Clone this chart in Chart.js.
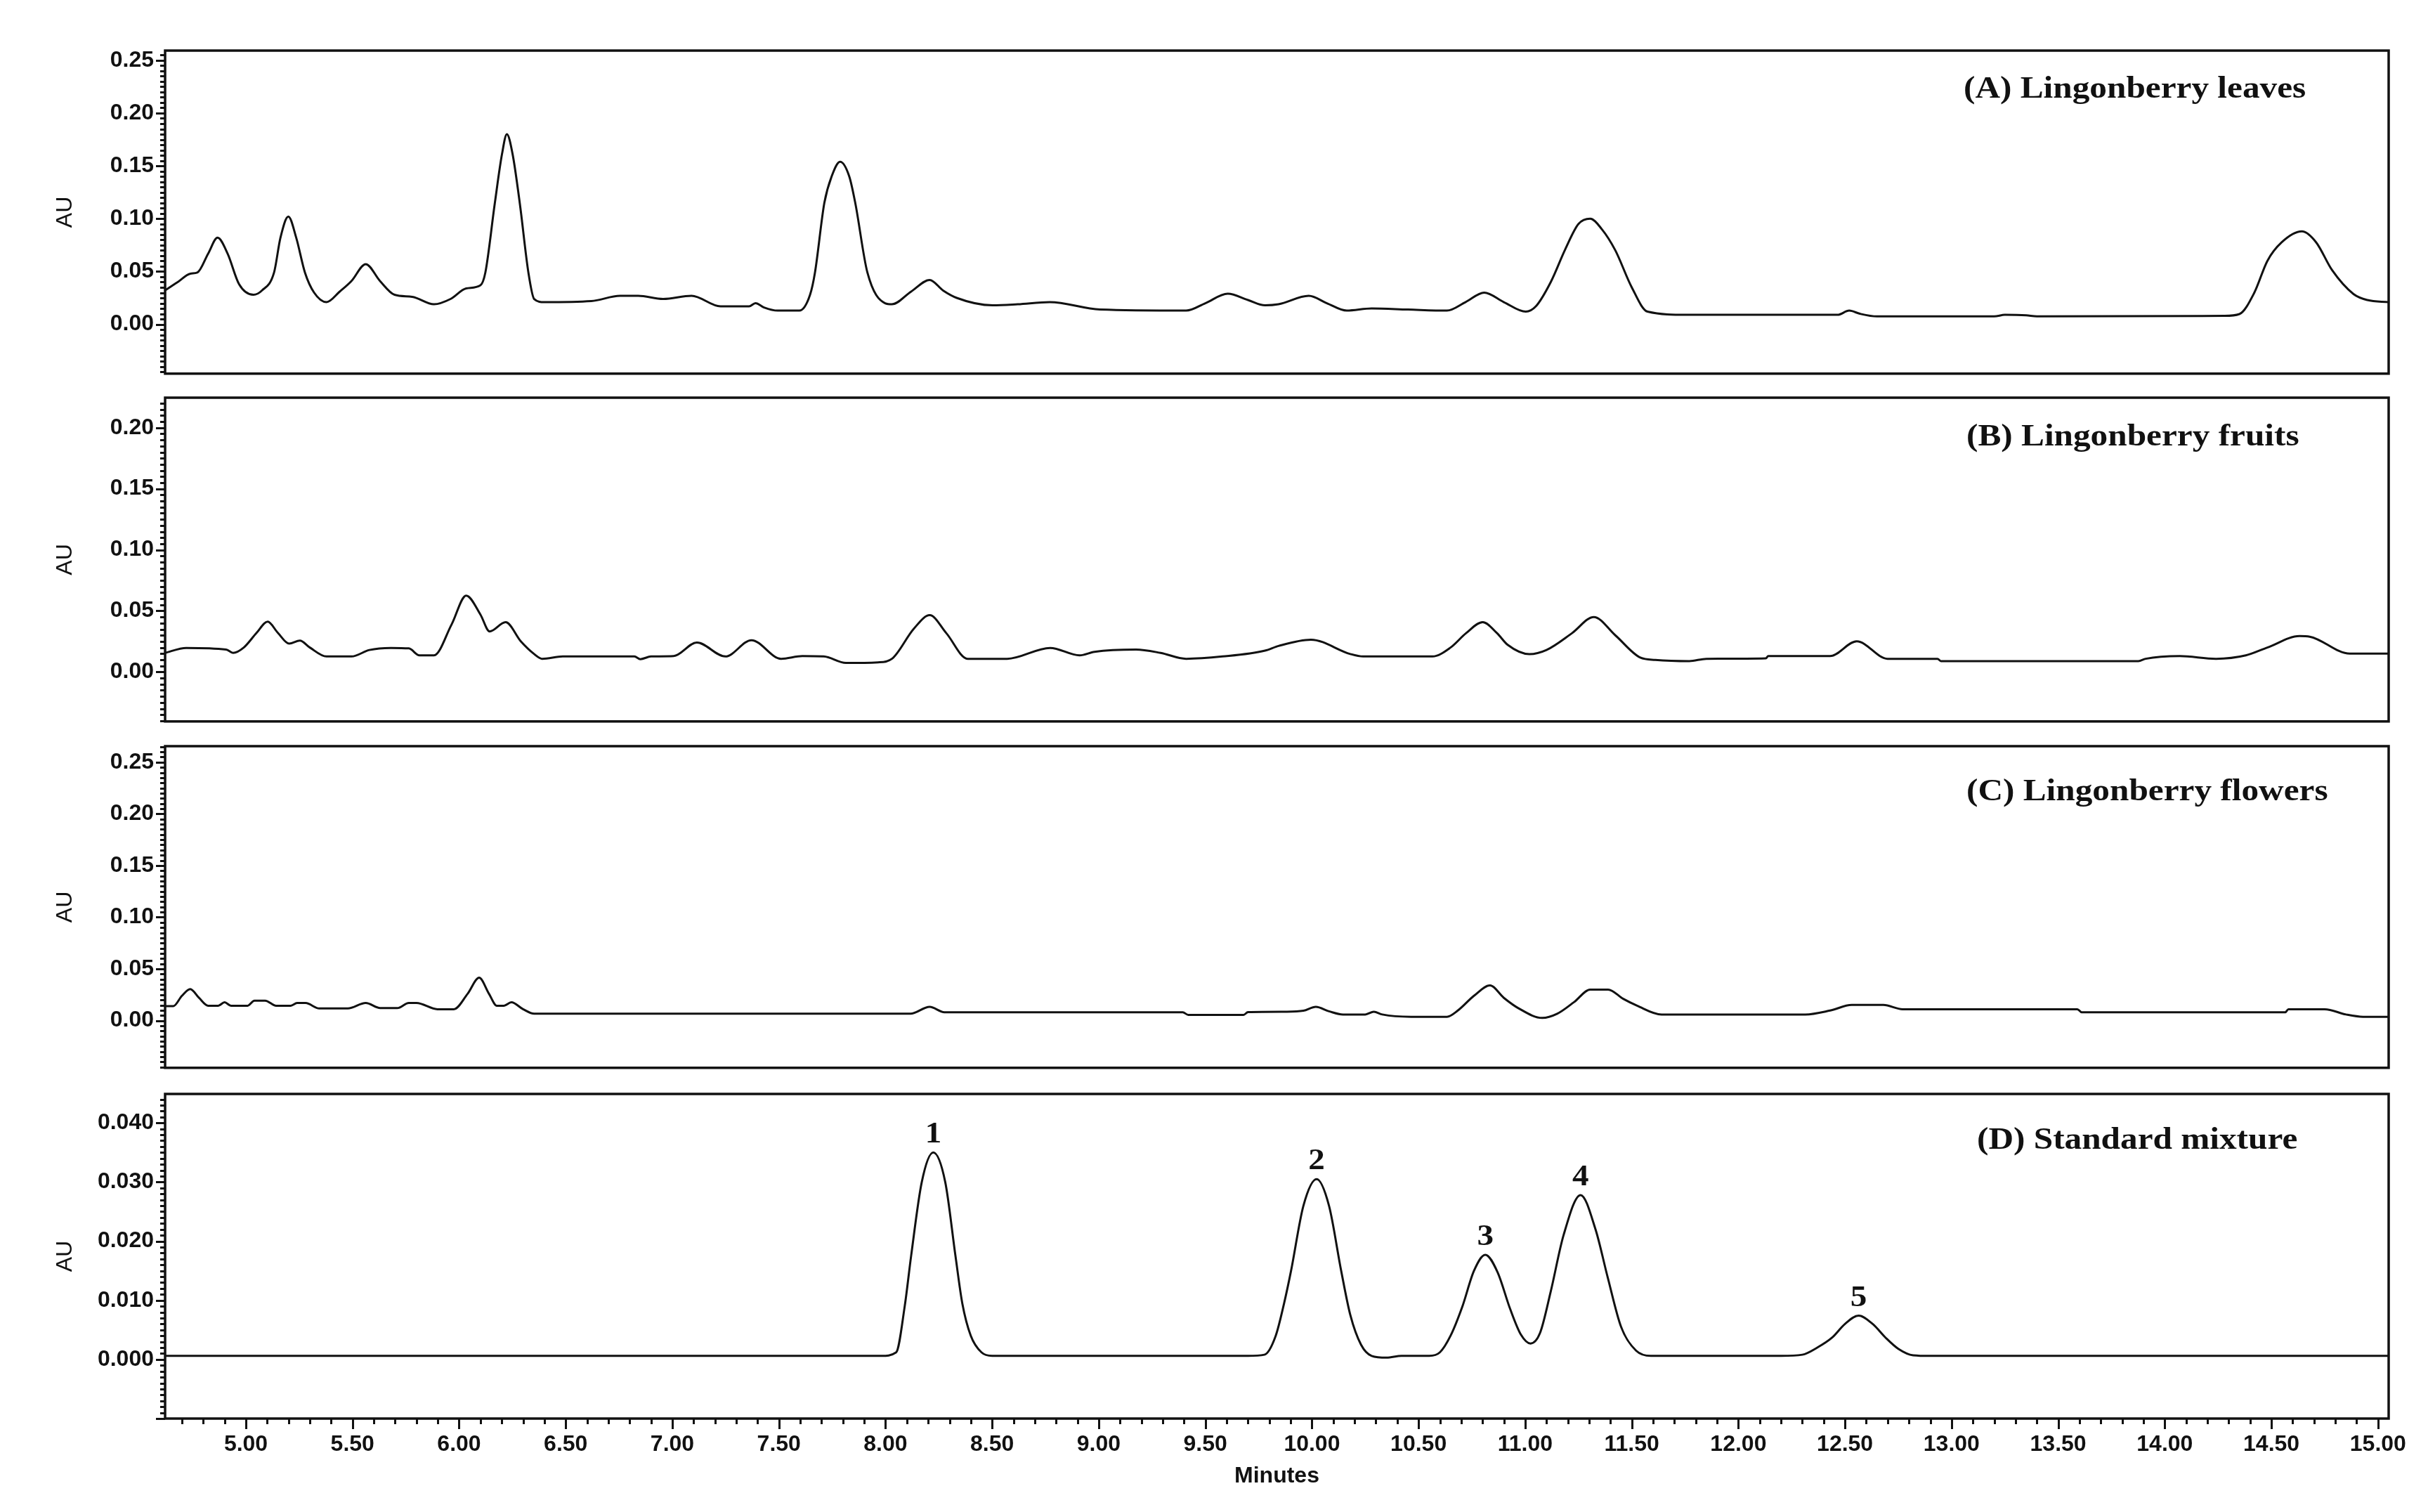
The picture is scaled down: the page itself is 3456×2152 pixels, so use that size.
<!DOCTYPE html>
<html>
<head>
<meta charset="utf-8">
<script src="https://cdn.jsdelivr.net/npm/chart.js@4.4.0/dist/chart.umd.min.js"></script>
<style>
  html, body { margin: 0; padding: 0; background: #fff; }
  #wrap { position: relative; width: 3456px; height: 2152px; background: #fff; }
  canvas { position: absolute; left: 0; }
</style>
</head>
<body>
<div id="wrap">
  <canvas id="panelA"></canvas>
  <canvas id="panelB"></canvas>
  <canvas id="panelC"></canvas>
  <canvas id="panelD"></canvas>
</div>
<script>
// (A) leaves
const timeA = [4.62, 4.68, 4.74, 4.772, 4.823, 4.867, 4.914, 4.968, 5.035, 5.075, 5.132, 5.162, 5.199, 5.236, 5.277, 5.32, 5.378,
  5.44, 5.495, 5.562, 5.629, 5.697, 5.78, 5.882, 5.96, 6.033, 6.10, 6.123, 6.167, 6.201, 6.224, 6.251, 6.285, 6.325, 6.352,
  6.40, 6.62, 6.755, 6.84, 6.957, 7.09, 7.226, 7.36, 7.39, 7.43, 7.494, 7.596, 7.646, 7.669, 7.713, 7.747, 7.787, 7.83,
  7.858, 7.915, 7.998, 8.03, 8.12, 8.207, 8.27, 8.334, 8.502, 8.62, 8.77, 9.006, 9.41, 9.50, 9.605, 9.70, 9.78, 9.843,
  9.985, 10.07, 10.163, 10.28, 10.45, 10.633, 10.72, 10.808, 10.90, 11.003, 11.05, 11.12, 11.188, 11.25, 11.305, 11.36,
  11.423, 11.50, 11.574, 11.759, 12.465, 12.52, 12.57, 12.65, 13.20, 13.25, 13.35, 13.40, 14.28, 14.35, 14.42, 14.481,
  14.548, 14.643, 14.71, 14.784, 14.885, 14.95, 15.05];
const auA = [0.032, 0.040, 0.048, 0.049, 0.067, 0.082, 0.067, 0.038, 0.028, 0.032, 0.049, 0.082, 0.102, 0.082, 0.049, 0.030, 0.021,
  0.031, 0.041, 0.057, 0.041, 0.028, 0.026, 0.019, 0.024, 0.034, 0.037, 0.049, 0.114, 0.161, 0.180, 0.161, 0.114, 0.049, 0.024,
  0.021, 0.022, 0.027, 0.027, 0.024, 0.027, 0.017, 0.017, 0.020, 0.016, 0.013, 0.013, 0.028, 0.049, 0.115, 0.140, 0.154, 0.140,
  0.115, 0.049, 0.020, 0.019, 0.031, 0.042, 0.032, 0.025, 0.018, 0.019, 0.021, 0.014, 0.013, 0.020, 0.029, 0.023, 0.018, 0.019,
  0.027, 0.020, 0.013, 0.015, 0.014, 0.013, 0.021, 0.030, 0.021, 0.012, 0.017, 0.040, 0.071, 0.095, 0.100, 0.090,
  0.070, 0.035, 0.012, 0.009, 0.009, 0.013, 0.010, 0.0075, 0.0075, 0.009, 0.0085, 0.0075, 0.008, 0.0097, 0.030, 0.060,
  0.0776, 0.088, 0.0776, 0.0515, 0.0287, 0.023, 0.021];

// (B) fruits
const timeB = [4.62, 4.72, 4.907, 4.94, 4.99, 5.05, 5.102, 5.15, 5.203, 5.253, 5.30, 5.378, 5.495, 5.579, 5.68, 5.764, 5.814,
  5.882, 5.965, 6.033, 6.10, 6.143, 6.218, 6.29, 6.352, 6.39, 6.486, 6.822, 6.85, 6.90, 7.006, 7.115, 7.249, 7.371, 7.51,
  7.61, 7.71, 7.814, 7.965, 8.03, 8.133, 8.207, 8.285, 8.385, 8.57, 8.772, 8.91, 8.98, 9.175, 9.29, 9.41, 9.58, 9.78,
  9.843, 9.995, 10.18, 10.24, 10.565, 10.65, 10.723, 10.801, 10.868, 10.918, 11.02, 11.10, 11.22, 11.322, 11.423, 11.54,
  11.61, 11.77, 11.85, 12.129, 12.14, 12.43, 12.555, 12.70, 12.934, 12.95, 13.876, 13.91, 14.07, 14.24, 14.38, 14.481,
  14.632, 14.68, 14.868, 15.05];
const auB = [0.0156, 0.0197, 0.0184, 0.0156, 0.020, 0.032, 0.0412, 0.032, 0.0232, 0.0257, 0.020, 0.0127, 0.0127, 0.018, 0.0197, 0.0193, 0.0136,
  0.0136, 0.039, 0.0625, 0.047, 0.0332, 0.0408, 0.025, 0.0147, 0.0108, 0.0127, 0.0127, 0.0105, 0.0127, 0.013, 0.0241, 0.0127, 0.026, 0.0108,
  0.013, 0.0127, 0.0074, 0.0079, 0.0108, 0.0355, 0.0465, 0.0318, 0.0108, 0.0108, 0.0197, 0.0136, 0.0165, 0.0184, 0.0156, 0.0108, 0.0127, 0.0175,
  0.0213, 0.0264, 0.0147, 0.0127, 0.0127, 0.020, 0.0318, 0.0408, 0.0318, 0.0222, 0.0146, 0.018, 0.0318, 0.045, 0.030, 0.0118,
  0.0099, 0.0089, 0.0108, 0.0112, 0.013, 0.013, 0.0251, 0.0108, 0.0108, 0.0089, 0.0089, 0.0108, 0.013, 0.0108, 0.0136, 0.020,
  0.0294, 0.0289, 0.015, 0.015];

// (C) flowers
const timeC = [4.62, 4.66, 4.70, 4.739, 4.78, 4.823, 4.87, 4.90, 4.93, 5.008, 5.04, 5.09, 5.142, 5.21, 5.24, 5.28, 5.344, 5.478,
  5.562, 5.63, 5.71, 5.764, 5.80, 5.898, 5.975, 6.04, 6.094, 6.14, 6.177, 6.21, 6.245, 6.30, 6.352, 8.117, 8.207, 8.276,
  9.394, 9.42, 9.679, 9.70, 9.88, 9.96, 10.018, 10.08, 10.146, 10.25, 10.29, 10.33, 10.465, 10.633, 10.684, 10.76, 10.835,
  10.90, 10.969, 11.08, 11.15, 11.23, 11.305, 11.389, 11.46, 11.525, 11.64, 12.314, 12.43, 12.532, 12.68, 12.77, 13.59,
  13.61, 14.565, 14.58, 14.75, 14.85, 14.93, 15.05];
const auC = [0.014, 0.014, 0.024, 0.0305, 0.022, 0.0144, 0.0144, 0.0177, 0.0144, 0.0144, 0.0193, 0.0193, 0.0144, 0.0144, 0.017, 0.017, 0.0117, 0.0117,
  0.017, 0.0121, 0.0121, 0.017, 0.017, 0.011, 0.011, 0.026, 0.0415, 0.026, 0.0144, 0.0144, 0.0177, 0.011, 0.0066, 0.0066, 0.0133, 0.008,
  0.008, 0.0055, 0.0055, 0.0082, 0.0086, 0.0095, 0.0133, 0.009, 0.0059, 0.0059, 0.0085, 0.0059, 0.0037, 0.0037, 0.0097, 0.024, 0.034,
  0.022, 0.0119, 0.0026, 0.0066, 0.018, 0.030, 0.030, 0.021, 0.0144, 0.0059, 0.0059, 0.0097, 0.0151, 0.0151, 0.011, 0.011,
  0.008, 0.008, 0.011, 0.011, 0.0059, 0.0037, 0.0037];

// (D) standard mixture
const timeD = [4.62, 7.98, 8.05, 8.09, 8.12, 8.17, 8.224, 8.28, 8.328, 8.36, 8.40, 8.45, 8.50, 9.70, 9.777, 9.83, 9.87, 9.902,
  9.96, 10.022, 10.08, 10.137, 10.18, 10.23, 10.28, 10.35, 10.42, 10.55, 10.60, 10.65, 10.705, 10.76, 10.813, 10.87, 10.93,
  10.98, 11.025, 11.07, 11.12, 11.18, 11.26, 11.33, 11.387, 11.45, 11.52, 11.59, 12.20, 12.30, 12.37, 12.44, 12.50, 12.564,
  12.63, 12.69, 12.75, 12.82, 12.90, 15.05];
const auD = [0.0006, 0.0006, 0.0012, 0.009, 0.0175, 0.030, 0.035, 0.030, 0.0175, 0.0095, 0.004, 0.0012, 0.0006, 0.0006, 0.0008, 0.004, 0.0096, 0.015,
  0.026, 0.0305, 0.026, 0.015, 0.0075, 0.0025, 0.0006, 0.0003, 0.0006, 0.0006, 0.0012, 0.004, 0.0089, 0.015, 0.0177, 0.0148, 0.0085,
  0.0042, 0.0027, 0.0045, 0.0115, 0.021, 0.0278, 0.022, 0.0139, 0.0055, 0.0015, 0.0006, 0.0006, 0.0008, 0.002, 0.0037, 0.006, 0.0074,
  0.006, 0.0037, 0.0018, 0.0007, 0.0006, 0.0006];

const xTicks = [5.0, 5.5, 6.0, 6.5, 7.0, 7.5, 8.0, 8.5, 9.0, 9.5, 10.0, 10.5, 11.0, 11.5, 12.0, 12.5, 13.0, 13.5, 14.0, 14.5, 15.0];
const yTicksSample = [0, 0.05, 0.10, 0.15, 0.20, 0.25];
const yTicksB = [0, 0.05, 0.10, 0.15, 0.20];
const yTicksStd = [0, 0.01, 0.02, 0.03, 0.04];

const panelTitles = ['(A) Lingonberry leaves', '(B) Lingonberry fruits', '(C) Lingonberry flowers', '(D) Standard mixture'];
const peakNames = ['1', '2', '3', '4', '5'];
const peakTimes = [8.224, 10.022, 10.813, 11.26, 12.564];
const peakHeights = [0.035, 0.0305, 0.0177, 0.0278, 0.0074];

// layout (pixels), kept apart from the data
const PAGE_W = 3456, PAGE_H = 2152;
const PLOT_LEFT = 235, PLOT_RIGHT = 3400;
const X_MIN = 4.621, X_MAX = 15.05;
const INK = '#111';
const SANS = '"Liberation Sans", Arial, sans-serif';
const SERIF = '"Liberation Serif", "Times New Roman", serif';

const panels = [
  { id: 'panelA', time: timeA, au: auA, top: 72, bottom: 537, min: -0.0467, max: 0.2592, ticks: yTicksSample, dec: 2, minor: 0.005, title: panelTitles[0], tx: 2795, ty: 67 },
  { id: 'panelB', time: timeB, au: auB, top: 566, bottom: 1032, min: -0.0405, max: 0.2246, ticks: yTicksB, dec: 2, minor: 0.005, title: panelTitles[1], tx: 2799, ty: 68 },
  { id: 'panelC', time: timeC, au: auC, top: 1062, bottom: 1525, min: -0.0457, max: 0.2655, ticks: yTicksSample, dec: 2, minor: 0.005, title: panelTitles[2], tx: 2799, ty: 77 },
  { id: 'panelD', time: timeD, au: auD, top: 1557, bottom: 2019, min: -0.0100, max: 0.0449, ticks: yTicksStd, dec: 3, minor: 0.001, title: panelTitles[3], tx: 2814, ty: 78, last: true }
];

Chart.defaults.font.family = SANS;
Chart.defaults.font.size = 32;
Chart.defaults.color = INK;

function stretchedText(ctx, text, x, y, font, align) {
  ctx.save();
  ctx.font = font;
  ctx.textAlign = align;
  ctx.textBaseline = 'alphabetic';
  ctx.translate(x, y);
  ctx.scale(1.12, 1);
  ctx.fillText(text, 0, 0);
  ctx.restore();
}

function makePanel(p) {
  const canvas = document.getElementById(p.id);
  const padTop = 40;
  const top = p.top - padTop;
  const height = (p.last ? PAGE_H : p.bottom + 30) - top;
  canvas.width = PAGE_W;
  canvas.height = height;
  canvas.style.top = top + 'px';

  const frame = {
    id: 'frame' + p.id,
    afterDraw(chart) {
      const { ctx, chartArea: a, scales } = chart;
      ctx.save();
      ctx.strokeStyle = INK;
      ctx.lineCap = 'butt';

      // y tick marks, major and minor
      ctx.lineWidth = 3;
      const perMajor = Math.round((p.ticks[1] - p.ticks[0]) / p.minor);
      const k0 = Math.ceil(p.min / p.minor - 1e-6), k1 = Math.floor(p.max / p.minor + 1e-6);
      ctx.beginPath();
      for (let k = k0; k <= k1; k++) {
        const py = Math.round(scales.y.getPixelForValue(k * p.minor)) + 0.5;
        const len = (k % perMajor === 0) ? 13 : 7;
        ctx.moveTo(a.left - len, py);
        ctx.lineTo(a.left, py);
      }
      ctx.stroke();

      // x tick marks on the bottom panel
      if (p.last) {
        const j0 = Math.ceil(X_MIN / 0.1 - 1e-6), j1 = Math.floor(X_MAX / 0.1 + 1e-6);
        ctx.beginPath();
        for (let j = j0; j <= j1; j++) {
          const px = Math.round(scales.x.getPixelForValue(j / 10)) + 0.5;
          const len = (j % 5 === 0) ? 15 : 8;
          ctx.moveTo(px, a.bottom);
          ctx.lineTo(px, a.bottom + len);
        }
        ctx.stroke();
      }

      // box
      ctx.lineWidth = 3.5;
      ctx.strokeRect(a.left, a.top, a.right - a.left, a.bottom - a.top);

      // panel title
      ctx.fillStyle = INK;
      stretchedText(ctx, p.title, p.tx, a.top + p.ty, 'bold 44px ' + SERIF, 'left');

      // peak numbers for the standards
      if (p.last) {
        peakNames.forEach((name, i) => {
          const px = scales.x.getPixelForValue(peakTimes[i]);
          const py = scales.y.getPixelForValue(peakHeights[i]) - 14;
          stretchedText(ctx, name, px, py, 'bold 42px ' + SERIF, 'center');
        });
      }
      ctx.restore();
    }
  };

  new Chart(canvas.getContext('2d'), {
    type: 'line',
    data: {
      datasets: [{
        data: p.time.map((t, i) => ({ x: t, y: p.au[i] })),
        borderColor: INK,
        borderWidth: 3,
        pointRadius: 0,
        fill: false,
        cubicInterpolationMode: 'monotone'
      }]
    },
    options: {
      responsive: false,
      animation: false,
      devicePixelRatio: 1,
      layout: { padding: { top: padTop, bottom: p.last ? 0 : 30, left: 0, right: PAGE_W - PLOT_RIGHT } },
      plugins: { legend: { display: false }, tooltip: { enabled: false } },
      scales: {
        x: {
          type: 'linear',
          min: X_MIN,
          max: X_MAX,
          display: !!p.last,
          afterBuildTicks: s => { s.ticks = xTicks.map(v => ({ value: v })); },
          afterFit: s => { if (p.last) s.height = PAGE_H - p.bottom; },
          grid: { display: false, drawTicks: false },
          border: { display: false },
          ticks: { padding: 18, maxRotation: 0, autoSkip: false, font: { weight: 'bold' }, callback: v => Number(v).toFixed(2) },
          title: { display: true, text: 'Minutes', font: { size: 32, weight: 'bold' }, padding: { top: 0, bottom: 32 } }
        },
        y: {
          type: 'linear',
          min: p.min,
          max: p.max,
          afterBuildTicks: s => { s.ticks = p.ticks.map(v => ({ value: v })); },
          afterFit: s => { s.width = PLOT_LEFT; },
          grid: { display: false, drawTicks: false },
          border: { display: false },
          ticks: { padding: 16, font: { weight: 'bold' }, callback: v => Number(v).toFixed(p.dec) },
          title: { display: true, text: 'AU', font: { size: 32 }, padding: { top: 74, bottom: 0 } }
        }
      }
    },
    plugins: [frame]
  });
}

panels.forEach(makePanel);
</script>
</body>
</html>
